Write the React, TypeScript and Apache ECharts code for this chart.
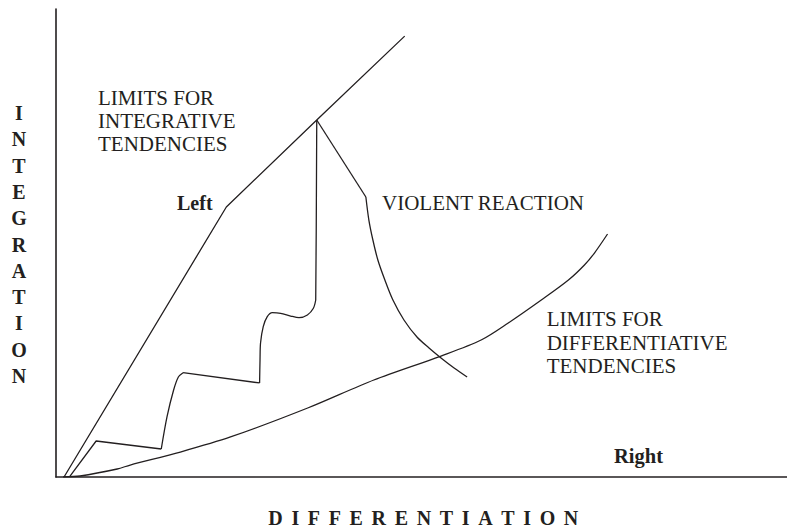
import React, { useEffect, useRef } from "react";
import * as echarts from "echarts";

// Curves, in chart units (x: 0-100 differentiation, y: 0-100 integration)
const integrativeLimit: [number, number][] = [
  [1.1, 0], [23.3, 57.7], [35.67, 76.28], [47.7, 94.2],
];
// trajectory towards integration, split into straight and curved stretches
const trajectoryStraight1: [number, number][] = [
  [1.92, 0.21], [5.49, 7.69], [14.4, 5.98],
];
const trajectoryCurve1: [number, number][] = [
  [14.4, 5.98], [15.19, 12.88], [16.09, 18.59], [16.74, 21.37], [17.38, 22.29],
];
const trajectoryStraight2: [number, number][] = [
  [17.38, 22.29], [27.85, 20.09],
];
const trajectoryCurve2: [number, number][] = [
  [27.85, 20.09], [27.91, 25.0], [27.98, 28.63], [28.35, 32.12], [28.9, 34.25],
  [29.59, 35.11], [30.73, 34.98], [32.1, 34.4], [33.24, 34.04], [34.39, 34.62],
  [35.21, 36.05], [35.53, 37.82],
];
const trajectoryStraight3: [number, number][] = [
  [35.53, 37.82], [35.6, 52.78], [35.67, 76.28],
];
const violentStraight: [number, number][] = [
  [35.67, 76.28], [42.39, 59.83],
];
const violentCurve: [number, number][] = [
  [42.39, 59.83], [42.8, 54.91], [43.35, 50.64], [44.03, 46.37],
  [44.99, 42.09], [46.09, 37.82], [47.6, 33.55], [49.38, 29.91], [51.03, 27.56],
  [52.67, 25.43], [54.46, 23.29], [56.24, 21.37],
];
const differentiativeLimit: [number, number][] = [
  [0.96, 0], [3.29, 0.21], [8.37, 1.71], [10.15, 2.56], [17.01, 5.34],
  [23.87, 8.55], [34.43, 14.74], [43.48, 20.73], [52.67, 25.85], [58.16, 29.27],
  [61.87, 32.91], [66.39, 37.82], [70.1, 42.09], [72.29, 45.3], [73.66, 47.86],
  [75.45, 51.92],
];

const xTitle = "DIFFERENTIATION";
const yTitle = "INTEGRATION";
const integrativeLabel = ["LIMITS FOR", "INTEGRATIVE", "TENDENCIES"];
const differentiativeLabel = ["LIMITS FOR", "DIFFERENTIATIVE", "TENDENCIES"];
const leftLabel = "Left";
const rightLabel = "Right";
const violentLabel = "VIOLENT REACTION";

const INK = "#231f20";
const SERIF = "'Liberation Serif', 'Times New Roman', serif";

function measure(text: string, font: string): number {
  const c = document.createElement("canvas");
  const ctx = c.getContext("2d");
  if (!ctx) return text.length * 12;
  ctx.font = font;
  return ctx.measureText(text).width;
}

export default function App() {
  const ref = useRef<HTMLDivElement>(null);
  useEffect(() => {
    if (!ref.current) return;
    const chart = echarts.init(ref.current, undefined, { renderer: "svg" });

    const lineSeries = (data: [number, number][], smooth: number | boolean = false) => ({
      type: "line",
      data,
      showSymbol: false,
      symbol: "none",
      smooth,
      lineStyle: { color: INK, width: 1.3 },
      silent: true,
    });

    const graphics: any[] = [];
    const normFont = `21px ${SERIF}`;
    const boldFont = `bold 20px ${SERIF}`;
    const addText = (text: string, x: number, y: number, font: string, align = "left") => {
      graphics.push({
        type: "text",
        x,
        y,
        silent: true,
        style: { text, font, fill: INK, textAlign: align, textVerticalAlign: "middle" },
      });
    };

    integrativeLabel.forEach((t, i) => addText(t, 98, 98 + i * 23.2, normFont));
    differentiativeLabel.forEach((t, i) => addText(t, 546.7, 319 + i * 23.7, normFont));
    addText(leftLabel, 177, 202.5, boldFont);
    addText(violentLabel, 382, 202.5, normFont);
    addText(rightLabel, 614, 456, `bold 20.5px ${SERIF}`);

    // vertical axis title, one letter per row
    yTitle.split("").forEach((ch, i) => addText(ch, 19, 113 + i * 26.3, boldFont, "center"));

    // horizontal axis title, letter-spaced
    const letters = xTitle.split("");
    const widths = letters.map((ch) => measure(ch, boldFont));
    const total = widths.reduce((a, b) => a + b, 0);
    const targetWidth = 310;
    const gap = (targetWidth - total) / (letters.length - 1);
    let cx = 268.3;
    letters.forEach((ch, i) => {
      addText(ch, cx, 518, boldFont);
      cx += widths[i] + gap;
    });

    chart.setOption({
      animation: false,
      backgroundColor: "#ffffff",
      grid: { left: 56, top: 9, right: 0, bottom: 51, containLabel: false },
      xAxis: {
        type: "value",
        min: 0,
        max: 100,
        axisLine: { show: true, onZero: false, lineStyle: { color: INK, width: 1.6 } },
        axisTick: { show: false },
        axisLabel: { show: false },
        splitLine: { show: false },
      },
      yAxis: {
        type: "value",
        min: 0,
        max: 100,
        axisLine: { show: true, onZero: false, lineStyle: { color: INK, width: 1.6 } },
        axisTick: { show: false },
        axisLabel: { show: false },
        splitLine: { show: false },
      },
      series: [
        lineSeries(integrativeLimit),
        lineSeries(trajectoryStraight1),
        lineSeries(trajectoryCurve1, 0.3),
        lineSeries(trajectoryStraight2),
        lineSeries(trajectoryCurve2, 0.3),
        lineSeries(trajectoryStraight3),
        lineSeries(violentStraight),
        lineSeries(violentCurve, 0.3),
        lineSeries(differentiativeLimit, 0.3),
      ],
      graphic: graphics,
    });

    return () => chart.dispose();
  }, []);

  return (
    <div
      ref={ref}
      style={{ position: "fixed", left: 0, top: 0, width: 787, height: 528, background: "#fff" }}
    />
  );
}
